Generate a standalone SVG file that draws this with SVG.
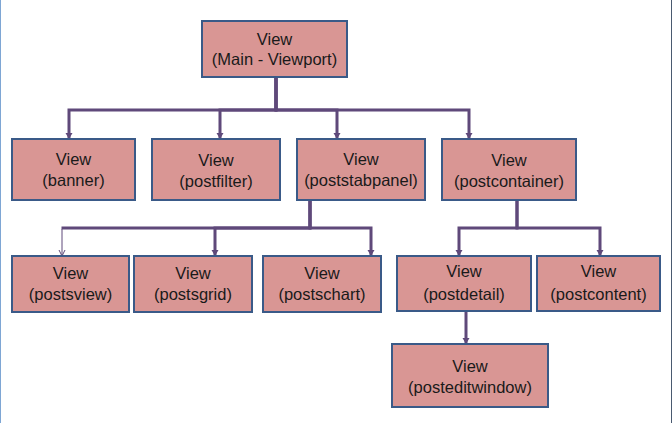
<svg xmlns="http://www.w3.org/2000/svg" width="672" height="423" viewBox="0 0 672 423">
<style>
.box{fill:#d99694;stroke:#3a5a88;stroke-width:2}
.lbl{font-family:"Liberation Sans",Arial,sans-serif;font-size:16.5px;fill:#1a1a1a;text-anchor:middle}
.c{fill:none;stroke:#5f497a;stroke-width:3;marker-end:url(#ah)}
.bus{fill:none;stroke:#5f497a;stroke-width:3}
.thin{fill:none;stroke:#5f497a;stroke-width:1;marker-end:url(#oh)}
</style>
<defs>
<marker id="ah" markerUnits="userSpaceOnUse" markerWidth="8" markerHeight="8" refX="6" refY="4" orient="auto" viewBox="0 0 8 8">
<path d="M0,0.5 L6,4 L0,7.5 Z" fill="#5f497a"/>
</marker>
<marker id="oh" markerUnits="userSpaceOnUse" markerWidth="8" markerHeight="8" refX="6" refY="4" orient="auto" viewBox="0 0 8 8">
<path d="M0,1 L6,4 L0,7" fill="none" stroke="#5f497a" stroke-width="1"/>
</marker>
</defs>
<rect x="0" y="0" width="672" height="423" fill="#ffffff"/>
<line x1="0.5" y1="0" x2="0.5" y2="423" stroke="#7ea6d4" stroke-width="1"/>
<line x1="671.5" y1="0" x2="671.5" y2="423" stroke="#4a5a70" stroke-width="1"/>
<g id="connectors">
<path class="c" d="M276,77 V110 H69 V139"/>
<path class="c" d="M276,77 V110 H220 V139"/>
<path class="c" d="M276,77 V110 H337 V139"/>
<path class="c" d="M276,77 V110 H469 V139"/>
<path class="bus" d="M310,200 V228 H61.5"/>
<path class="thin" d="M62,229 V256"/>
<path class="c" d="M310,200 V228 H215 V256"/>
<path class="c" d="M310,200 V228 H371 V256"/>
<path class="c" d="M517,200 V228 H459 V256"/>
<path class="c" d="M517,200 V228 H600 V256"/>
<path class="c" d="M466,311 V344"/>
</g>
<g id="main"><rect class="box" x="202" y="21" width="145" height="56"/><text class="lbl" x="274.5" y="45">View</text><text class="lbl" x="274.5" y="65">(Main - Viewport)</text></g>
<g id="banner"><rect class="box" x="12" y="139" width="123" height="61"/><text class="lbl" x="73.5" y="165">View</text><text class="lbl" x="73.5" y="186">(banner)</text></g>
<g id="postfilter"><rect class="box" x="152" y="139" width="128" height="61"/><text class="lbl" x="216" y="166">View</text><text class="lbl" x="216" y="187">(postfilter)</text></g>
<g id="poststabpanel"><rect class="box" x="297" y="139" width="128" height="61"/><text class="lbl" x="361" y="165">View</text><text class="lbl" x="361" y="186">(poststabpanel)</text></g>
<g id="postcontainer"><rect class="box" x="442" y="139" width="134" height="61"/><text class="lbl" x="509" y="166">View</text><text class="lbl" x="509" y="187">(postcontainer)</text></g>
<g id="postsview"><rect class="box" x="12" y="256" width="117" height="56"/><text class="lbl" x="70.5" y="279">View</text><text class="lbl" x="70.5" y="300">(postsview)</text></g>
<g id="postsgrid"><rect class="box" x="134" y="256" width="118" height="56"/><text class="lbl" x="193" y="279">View</text><text class="lbl" x="193" y="300">(postsgrid)</text></g>
<g id="postschart"><rect class="box" x="263" y="256" width="118" height="56"/><text class="lbl" x="322" y="279">View</text><text class="lbl" x="322" y="300">(postschart)</text></g>
<g id="postdetail"><rect class="box" x="397" y="256" width="134" height="55"/><text class="lbl" x="464" y="277">View</text><text class="lbl" x="464" y="300">(postdetail)</text></g>
<g id="postcontent"><rect class="box" x="537" y="256" width="123" height="55"/><text class="lbl" x="598.5" y="277">View</text><text class="lbl" x="598.5" y="300">(postcontent)</text></g>
<g id="posteditwindow"><rect class="box" x="392" y="344" width="156" height="63"/><text class="lbl" x="470" y="372">View</text><text class="lbl" x="470" y="393">(posteditwindow)</text></g>
</svg>
